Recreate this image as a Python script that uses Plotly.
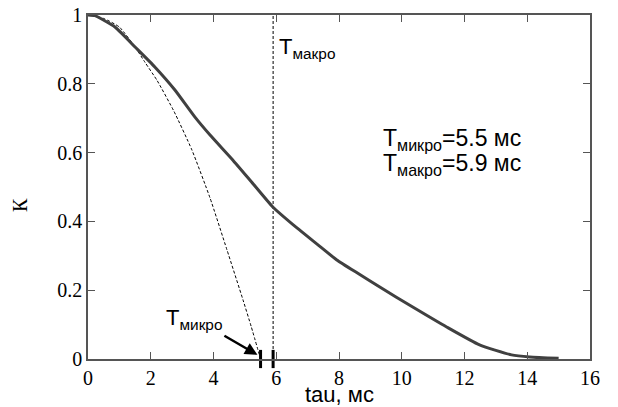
import plotly.graph_objects as go

# Solid curve (macro correlation)
macro_tau = [0, 0.22, 0.86, 1.50, 2.13, 2.77, 3.41, 3.89, 4.62, 5.2, 5.89, 6.66, 7.3,
             7.93, 8.6, 9.3, 10.35, 11.43, 12.48, 13.5, 14.08, 15.0]
macro_k = [1.0, 0.998, 0.965, 0.907, 0.849, 0.782, 0.703, 0.651, 0.578, 0.516, 0.442,
           0.381, 0.334, 0.288, 0.249, 0.209, 0.151, 0.093, 0.041, 0.012, 0.006, 0.002]

# Dashed curve (micro correlation)
micro_tau = [0, 0.5, 1.0, 1.5, 1.82, 2.2, 2.74, 3.31, 3.89, 4.43, 4.94, 5.2, 5.5]
micro_k = [1.0, 0.99, 0.965, 0.907, 0.862, 0.81, 0.72, 0.608, 0.468, 0.317, 0.172, 0.095, 0.0]

t_micro = 5.5
t_macro = 5.9

x_ticks = [0, 2, 4, 6, 8, 10, 12, 14, 16]
y_ticks = [0, 0.2, 0.4, 0.6, 0.8, 1]
y_ticktext = ["0", "0.2", "0.4", "0.6", "0.8", "1"]

fig = go.Figure()
fig.add_trace(go.Scatter(x=micro_tau, y=micro_k, mode="lines",
                         line=dict(color="black", width=1, dash="3px,2px", shape="spline",
                                   smoothing=0.5),
                         showlegend=False, hoverinfo="skip"))
fig.add_trace(go.Scatter(x=[t_macro, t_macro], y=[0, 1], mode="lines",
                         line=dict(color="black", width=1, dash="3px,2px"),
                         showlegend=False, hoverinfo="skip"))
fig.add_trace(go.Scatter(x=macro_tau, y=macro_k, mode="lines",
                         line=dict(color="#404040", width=3, shape="spline", smoothing=0.5),
                         showlegend=False, hoverinfo="skip"))
fig.add_trace(go.Scatter(x=[t_micro, t_macro], y=[0, 0], mode="markers",
                         marker=dict(symbol="line-ns", size=13,
                                     line=dict(color="black", width=3)),
                         cliponaxis=False, showlegend=False, hoverinfo="skip"))

sans = "Liberation Sans"
serif = "Liberation Serif"

fig.add_annotation(x=t_micro - 0.1, y=0.012, ax=4.3, ay=0.07, xref="x", yref="y",
                   axref="x", ayref="y", text="", showarrow=True,
                   arrowhead=2, arrowsize=1, arrowwidth=2.5, arrowcolor="black")
fig.add_annotation(x=2.42, y=0.164, xref="x", yref="y", xanchor="left", yanchor="top",
                   text="T<sub>микро</sub>", showarrow=False,
                   font=dict(family=sans, size=22, color="black"))
fig.add_annotation(x=6.03, y=0.952, xref="x", yref="y", xanchor="left", yanchor="top",
                   text="T<sub>макро</sub>", showarrow=False,
                   font=dict(family=sans, size=22, color="black"))
fig.add_annotation(x=9.33, y=0.685, xref="x", yref="y", xanchor="left", yanchor="top",
                   text="T<sub>микро</sub>=5.5 мс", showarrow=False,
                   font=dict(family=sans, size=23, color="black"))
fig.add_annotation(x=9.33, y=0.612, xref="x", yref="y", xanchor="left", yanchor="top",
                   text="T<sub>макро</sub>=5.9 мс", showarrow=False,
                   font=dict(family=sans, size=23, color="black"))

# Axis titles
fig.add_annotation(x=0.5, y=-0.104, xref="paper", yref="paper", xanchor="center",
                   yanchor="middle", text="tau, мс", showarrow=False,
                   font=dict(family=sans, size=22, color="black"))
fig.add_annotation(x=-0.135, y=0.448, xref="paper", yref="paper", xanchor="center",
                   yanchor="middle", text="К", textangle=-90, showarrow=False,
                   font=dict(family=serif, size=20, color="black"))

axis_common = dict(showgrid=False, zeroline=False, showline=True, linecolor="#555555",
                   linewidth=1.5, ticks="inside", ticklen=7, tickwidth=1.2,
                   tickcolor="#555555", mirror="ticks", automargin=False)

fig.update_xaxes(range=[0, 16], tickvals=x_ticks, ticktext=[str(v) for v in x_ticks],
                 tickfont=dict(family=serif, size=20, color="black"), **axis_common)
fig.update_yaxes(range=[0, 1], tickvals=y_ticks, ticktext=y_ticktext,
                 tickfont=dict(family=serif, size=20, color="black"), **axis_common)

fig.update_layout(width=618, height=407, margin=dict(l=88, r=28, t=15, b=48),
                  plot_bgcolor="white", paper_bgcolor="white",
                  font=dict(family=serif))

fig.write_html("out.html", config={"displayModeBar": False},
               post_script="document.body.style.margin='0';document.body.style.padding='0';")
